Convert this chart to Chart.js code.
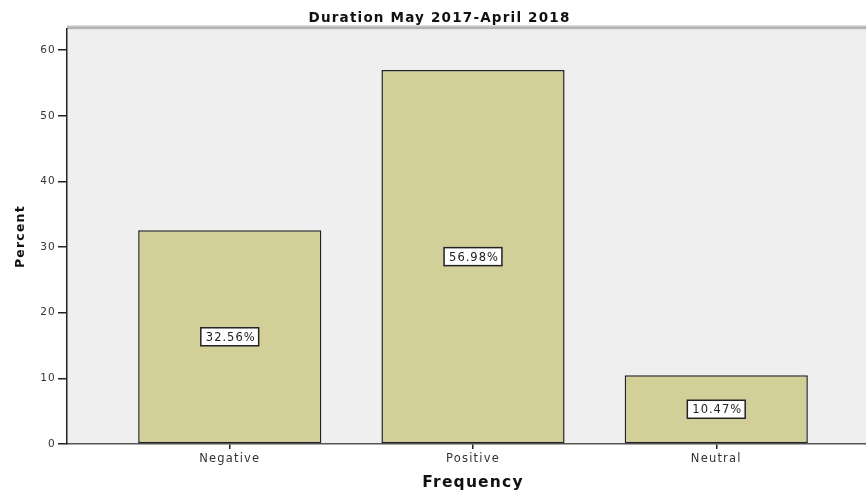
<!DOCTYPE html>
<html>
<head>
<meta charset="utf-8">
<script src="https://cdn.jsdelivr.net/npm/chart.js@4.4.1/dist/chart.umd.min.js"></script>
<style>
  html, body { margin: 0; padding: 0; background: #fff; overflow: hidden; }
  .wrap { width: 900px; height: 492px; }
</style>
</head>
<body>
<div class="wrap"><canvas id="chart"></canvas></div>
<script>
const categories = ["Negative", "Positive", "Neutral"];
const percents = [32.56, 56.98, 10.47];
const valueLabels = ["32.56%", "56.98%", "10.47%"];
const yTicks = [0, 10, 20, 30, 40, 50, 60];

Chart.defaults.font.family = "DejaVu Sans, sans-serif";
Chart.defaults.color = "#333";

// everything in this style of chart is drawn a bit wide
const spacing = {
  id: "spacing",
  beforeUpdate: (chart) => { chart.ctx.letterSpacing = "1.2px"; },
  beforeDraw: (chart) => { chart.ctx.letterSpacing = "1.2px"; },
};

// grey plot background with the shaded top edge
const plotBg = {
  id: "plotBg",
  beforeDraw(chart) {
    const { ctx, chartArea: a } = chart;
    ctx.save();
    ctx.fillStyle = "#efefef";
    ctx.fillRect(a.left, a.top, a.right - a.left, a.bottom - a.top);
    ctx.fillStyle = "#b4b4b4";
    ctx.fillRect(a.left, a.top - 3, a.right - a.left, 3);
    ctx.fillStyle = "#d6d6d6";
    ctx.fillRect(a.left, a.top - 4, a.right - a.left, 1);
    ctx.restore();
  },
};

// boxed percentage in the middle of each bar
const boxLabels = {
  id: "boxLabels",
  afterDatasetsDraw(chart) {
    const { ctx } = chart;
    const meta = chart.getDatasetMeta(0);
    ctx.save();
    ctx.letterSpacing = "1px";
    ctx.font = "11.5px DejaVu Sans, sans-serif";
    ctx.textAlign = "center";
    ctx.textBaseline = "middle";
    meta.data.forEach((bar, i) => {
      const txt = valueLabels[i];
      const cx = bar.x;
      const cy = (bar.y + bar.base) / 2;
      const w = ctx.measureText(txt).width + 8;
      const h = 18;
      ctx.fillStyle = "#fff";
      ctx.fillRect(cx - w / 2, cy - h / 2, w, h);
      ctx.strokeStyle = "#222";
      ctx.lineWidth = 1.5;
      ctx.strokeRect(cx - w / 2, cy - h / 2, w, h);
      ctx.fillStyle = "#222";
      ctx.fillText(txt, cx + 1, cy + 1);
    });
    ctx.restore();
  },
};

new Chart(document.getElementById("chart"), {
  type: "bar",
  data: {
    datasets: [
      {
        data: percents.map((v, i) => ({ x: i, y: v })),
        backgroundColor: "#d3cf98",
        borderColor: "#222",
        borderWidth: 1.5,
        borderSkipped: false,
        barPercentage: 0.753,
        categoryPercentage: 1,
      },
    ],
  },
  options: {
    responsive: true,
    maintainAspectRatio: false,
    animation: false,
    layout: { padding: { left: 0, right: 21, top: 0, bottom: 0 } },
    plugins: {
      legend: { display: false },
      tooltip: { enabled: false },
      title: {
        display: true,
        text: "Duration May 2017-April 2018",
        color: "#111",
        font: { size: 13.5, weight: "bold" },
        padding: { top: 10, bottom: 3 },
      },
    },
    scales: {
      x: {
        type: "linear",
        offset: false,
        min: -0.669,
        max: 2.669,
        afterBuildTicks: (s) => { s.ticks = categories.map((c, i) => ({ value: i })); },
        afterFit: (s) => { s.height = 48; },
        border: { display: true, color: "#555", width: 1.5 },
        grid: { offset: false, drawOnChartArea: false, drawTicks: true, tickLength: 5, color: "#222", lineWidth: 1.5 },
        ticks: {
          autoSkip: false,
          maxRotation: 0,
          padding: 3,
          color: "#333",
          font: { size: 11.5 },
          callback: (v) => categories[v],
        },
        title: {
          display: true,
          text: "Frequency",
          color: "#111",
          font: { size: 15.5, weight: "bold", lineHeight: 1.2 },
          padding: { top: 0, bottom: 0 },
        },
      },
      y: {
        min: 0,
        max: 63.2,
        afterBuildTicks: (s) => { s.ticks = yTicks.map((v) => ({ value: v })); },
        afterFit: (s) => { s.width = 67; },
        border: { display: true, color: "#222", width: 1.5 },
        grid: { drawOnChartArea: false, drawTicks: true, tickLength: 9, color: "#222", lineWidth: 1.5 },
        ticks: { padding: 2, color: "#333", font: { size: 10.5 } },
        title: {
          display: true,
          text: "Percent",
          color: "#111",
          font: { size: 12.5, weight: "bold", lineHeight: 1.2 },
          padding: { top: 13, bottom: 0 },
        },
      },
    },
  },
  plugins: [spacing, plotBg, boxLabels],
});
</script>
</body>
</html>
